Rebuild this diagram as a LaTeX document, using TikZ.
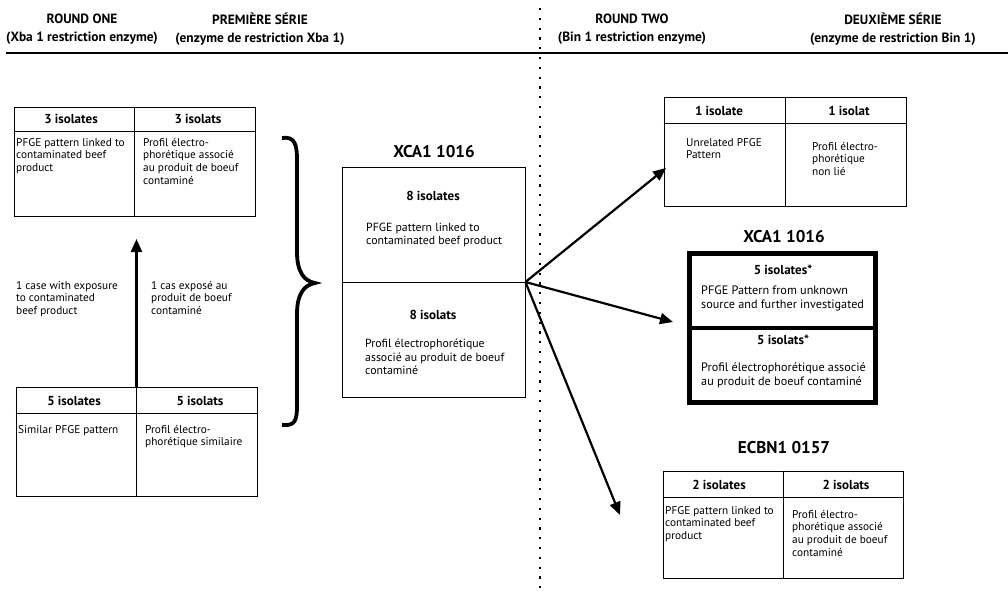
\documentclass[tikz,border=0pt]{standalone}
\usepackage{fontspec}
\setmainfont{PT Sans}
\usetikzlibrary{arrows.meta,calc}

\begin{document}
\begin{tikzpicture}[x=1pt, y=-1pt,
  box/.style={draw, line width=0.9, minimum width=241, minimum height=109, inner sep=0pt},
  hd/.style={font=\fontsize{13}{15}\selectfont\bfseries},
  ttl/.style={font=\fontsize{17}{19}\selectfont\bfseries},
  top/.style={font=\fontsize{13.4}{17.5}\selectfont\bfseries, align=center},
  body/.style={font=\fontsize{11.3}{12.6}\selectfont, anchor=north west, align=left, inner sep=0pt},
  arr/.style={line width=2.2, -{Triangle[length=13,width=11]}}]
  \useasboundingbox (0,0) rectangle (1008,590);
  % column headings
  \node[top] (r1) at (82,29) {ROUND ONE\\(Xba 1 restriction enzyme)};
  \node[top] (s1) at (260,29) {PREMIÈRE SÉRIE\\(enzyme de restriction Xba 1)};
  \node[top] (r2) at (632,29) {ROUND TWO\\(Bin 1 restriction enzyme)};
  \node[top] (s2) at (893,29) {DEUXIÈME SÉRIE\\(enzyme de restriction Bin 1)};
  \draw[line width=2.5] (6,53) -- (1008,53);
  \draw[line width=2.2, dash pattern=on 2.2 off 7.6] (540,8) -- (540,590);
  % round one, left
  \node[box] (iso3) at (134.5,161.5) {};
  \draw[line width=0.9] (iso3.north) -- (iso3.south);
  \draw[line width=0.9] ($(iso3.north west)+(0,25)$) -- ($(iso3.north east)+(0,25)$);
  \node[hd] (h3a) at (71,119) {3 isolates};
  \node[hd] (h3b) at (198,119) {3 isolats};
  \node[body] (t3a) at (16,138) {PFGE pattern linked to\\contaminated beef\\product};
  \node[body] (t3b) at (143,138) {Profil électro-\\phorétique associé\\au produit de boeuf\\contaminé};
  \node[box] (iso5) at (136.5,441.5) {};
  \draw[line width=0.9] (iso5.north) -- (iso5.south);
  \draw[line width=0.9] ($(iso5.north west)+(0,27)$) -- ($(iso5.north east)+(0,27)$);
  \node[hd] (h5a) at (74,401) {5 isolates};
  \node[hd] (h5b) at (200,401) {5 isolats};
  \node[body] (t5a) at (18,425) {Similar PFGE pattern};
  \node[body] (t5b) at (145,425) {Profil électro-\\phorétique similaire};
  \coordinate (up) at (136.5,239);
  \draw[arr] (iso5.north) -- (up);
  \node[body] (l1) at (16,281) {1 case with exposure\\to contaminated\\beef product};
  \node[body] (l2) at (151,281) {1 cas exposé au\\produit de boeuf\\contaminé};
  \draw[line width=3.8] (282,138) .. controls (295,136) and (297,145) .. (297,160)
    -- (297,252) .. controls (297,272) and (304,281) .. (315,283)
    .. controls (304,285) and (297,294) .. (297,314)
    -- (297,405) .. controls (297,421) and (295,426) .. (282,425);
  % premiere serie, centre
  \node[ttl] (c0) at (434,152) {XCA1 1016};
  \node[draw, line width=0.9, minimum width=183, minimum height=230, inner sep=0pt] (xca) at (433.5,282) {};
  \draw[line width=0.9] (xca.west) -- (xca.east);
  \node[hd] (h8a) at (433,196) {8 isolates};
  \node[body, font=\fontsize{11.8}{13.3}\selectfont] (t8a) at (366,223) {PFGE pattern linked to\\contaminated beef product};
  \node[hd] (h8b) at (433,315) {8 isolats};
  \node[body, font=\fontsize{11.8}{13.3}\selectfont] (t8b) at (365,339) {Profil électrophorétique\\associé au produit de boeuf\\contaminé};
  % round two, right
  \node[box, minimum width=242] (iso1) at (785,151.5) {};
  \draw[line width=0.9] (iso1.north) -- (iso1.south);
  \draw[line width=0.9] ($(iso1.north west)+(0,27)$) -- ($(iso1.north east)+(0,27)$);
  \node[hd] (h1a) at (719,111) {1 isolate};
  \node[hd] (h1b) at (849,111) {1 isolat};
  \node[body] (t1a) at (686,138) {Unrelated PFGE\\Pattern};
  \node[body] (t1b) at (812,142) {Profil électro-\\phorétique\\non lié};
  \node[ttl] (c1) at (784,237) {XCA1 1016};
  \node[draw, line width=5, minimum width=186, minimum height=149, inner sep=0pt] (thk) at (782.5,328) {};
  \draw[line width=4] (thk.west) -- (thk.east);
  \node[hd] (h5c) at (783,270) {5 isolates*};
  \node[body, font=\fontsize{12.2}{13.3}\selectfont] (t5c) at (701,286) {PFGE Pattern from unknown\\source and further investigated};
  \node[hd] (h5d) at (783,340) {5 isolats*};
  \node[body, font=\fontsize{12.2}{13.3}\selectfont] (t5d) at (701,363) {Profil électrophorétique associé\\au produit de boeuf contaminé};
  \node[ttl] (c2) at (784,448) {ECBN1 0157};
  \node[box, minimum width=240, minimum height=107] (iso2) at (783,524.5) {};
  \draw[line width=0.9] (iso2.north) -- (iso2.south);
  \draw[line width=0.9] ($(iso2.north west)+(0,27)$) -- ($(iso2.north east)+(0,27)$);
  \node[hd] (h2a) at (719,485) {2 isolates};
  \node[hd] (h2b) at (846,485) {2 isolats};
  \node[body] (t2a) at (665,506) {PFGE pattern linked to\\contaminated beef\\product};
  \node[body] (t2b) at (792,510) {Profil électro-\\phorétique associé\\au produit de boeuf\\contaminé};
  % arrows out of the centre box
  \coordinate (tipA) at (666,168);
  \coordinate (tipB) at (673,322);
  \coordinate (tipC) at (620,515);
  \draw[arr] (xca.east) -- (tipA);
  \draw[arr] (xca.east) -- (tipB);
  \draw[arr] (xca.east) -- (tipC);
\end{tikzpicture}
\end{document}
